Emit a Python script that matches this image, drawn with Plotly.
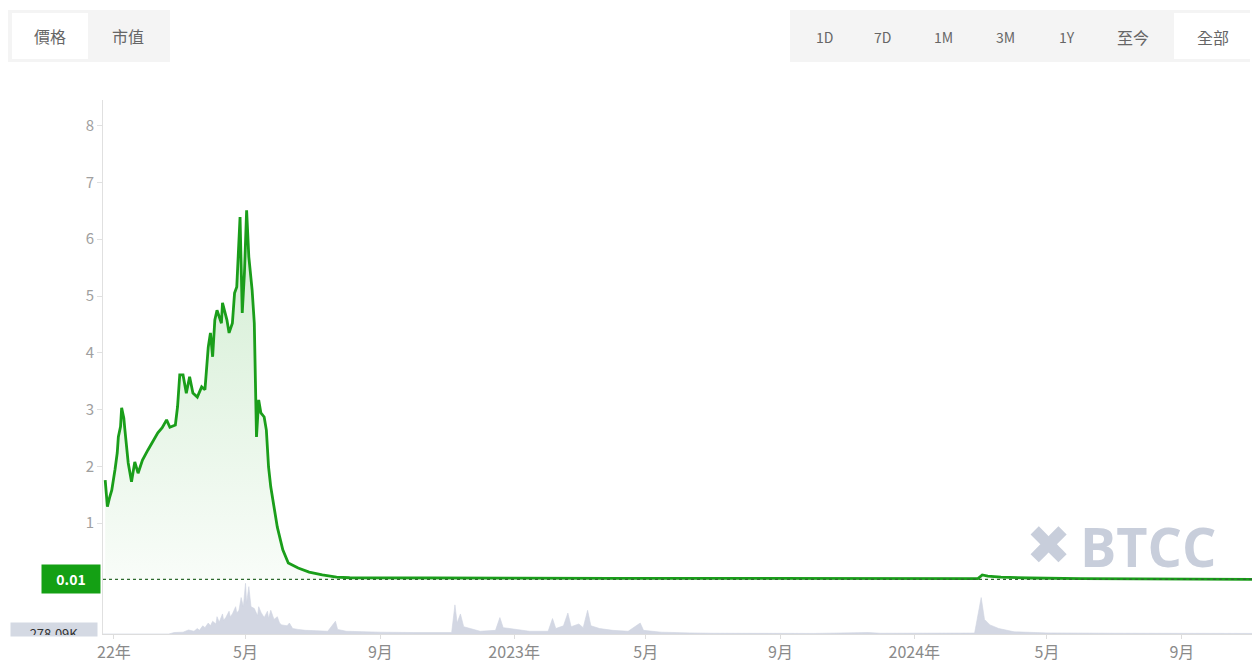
import plotly.graph_objects as go

# ---------------- data ----------------
price_dates = [
    "2021-12-24", "2021-12-26", "2021-12-28", "2021-12-30", "2022-01-02", "2022-01-04",
    "2022-01-05", "2022-01-07", "2022-01-08", "2022-01-10", "2022-01-11", "2022-01-14",
    "2022-01-17", "2022-01-20", "2022-01-23", "2022-01-27", "2022-02-01", "2022-02-06",
    "2022-02-10", "2022-02-14", "2022-02-18", "2022-02-21", "2022-02-26", "2022-02-28",
    "2022-03-02", "2022-03-05", "2022-03-08", "2022-03-11", "2022-03-14", "2022-03-18",
    "2022-03-22", "2022-03-25", "2022-03-28", "2022-03-30", "2022-04-01", "2022-04-03",
    "2022-04-05", "2022-04-09", "2022-04-10", "2022-04-14", "2022-04-16", "2022-04-19",
    "2022-04-21", "2022-04-23", "2022-04-26", "2022-04-28", "2022-04-30", "2022-05-02",
    "2022-05-04", "2022-05-07", "2022-05-09", "2022-05-11", "2022-05-13", "2022-05-15",
    "2022-05-18", "2022-05-20", "2022-05-22", "2022-05-24", "2022-05-27", "2022-05-30",
    "2022-06-04", "2022-06-09", "2022-06-18", "2022-06-28", "2022-07-10", "2022-07-23",
    "2022-08-04", "2022-08-22", "2022-10-01", "2023-01-01", "2023-04-01", "2023-08-01",
    "2023-12-01", "2024-02-28", "2024-03-03", "2024-03-08", "2024-03-20", "2024-04-15",
    "2024-06-01", "2024-09-01", "2024-11-04",
]
price_values = [
    1.76, 1.29, 1.45, 1.58, 1.95, 2.24,
    2.52, 2.70, 3.03, 2.85, 2.64, 2.06,
    1.73, 2.08, 1.88, 2.11, 2.29, 2.46,
    2.59, 2.68, 2.82, 2.69, 2.73, 3.05,
    3.61, 3.61, 3.29, 3.58, 3.29, 3.22,
    3.40, 3.35, 4.10, 4.35, 3.93, 4.58,
    4.75, 4.52, 4.88, 4.58, 4.35, 4.52,
    5.05, 5.16, 6.39, 4.70, 5.40, 6.51,
    5.69, 5.11, 4.52, 2.52, 3.17, 2.94,
    2.87, 2.64, 1.99, 1.64, 1.29, 0.93,
    0.53, 0.30, 0.21, 0.14, 0.09, 0.05,
    0.040, 0.038, 0.035, 0.032, 0.030, 0.028,
    0.026, 0.025, 0.090, 0.070, 0.050, 0.035,
    0.025, 0.018, 0.012,
]

volume_dates = [
    "2021-12-22", "2022-02-20", "2022-02-25", "2022-03-05", "2022-03-10", "2022-03-15",
    "2022-03-18", "2022-03-20", "2022-03-23", "2022-03-25", "2022-03-28", "2022-03-30",
    "2022-04-01", "2022-04-04", "2022-04-05", "2022-04-07", "2022-04-10", "2022-04-11",
    "2022-04-13", "2022-04-16", "2022-04-17", "2022-04-19", "2022-04-22", "2022-04-23",
    "2022-04-25", "2022-04-27", "2022-04-29", "2022-05-01", "2022-05-02", "2022-05-04",
    "2022-05-06", "2022-05-09", "2022-05-12", "2022-05-13", "2022-05-15", "2022-05-18",
    "2022-05-21", "2022-05-22", "2022-05-24", "2022-05-27", "2022-05-30", "2022-06-01",
    "2022-06-03", "2022-06-08", "2022-06-10", "2022-06-13", "2022-06-18", "2022-06-25",
    "2022-07-05", "2022-07-15", "2022-07-22", "2022-07-24", "2022-08-01", "2022-08-15",
    "2022-09-01", "2022-10-01", "2022-11-01", "2022-11-05", "2022-11-08", "2022-11-10",
    "2022-11-13", "2022-11-16", "2022-11-22", "2022-12-01", "2022-12-15", "2022-12-19",
    "2022-12-22", "2023-01-05", "2023-01-15", "2023-02-01", "2023-02-05", "2023-02-08",
    "2023-02-15", "2023-02-19", "2023-02-22", "2023-03-01", "2023-03-05", "2023-03-09",
    "2023-03-12", "2023-03-20", "2023-04-01", "2023-04-15", "2023-04-26", "2023-04-29",
    "2023-05-15", "2023-06-10", "2023-07-01", "2023-10-01", "2023-11-20", "2023-12-01",
    "2024-01-15", "2024-02-25", "2024-03-02", "2024-03-05", "2024-03-10", "2024-03-18",
    "2024-04-01", "2024-05-01", "2024-07-01", "2024-11-04",
]
volume_values_k = [
    0, 0, 8, 10, 22, 15,
    30, 20, 45, 35, 60, 45,
    70, 55, 95, 65, 110, 75,
    90, 125, 95, 110, 150, 115,
    130, 200, 150, 278, 170, 260,
    150, 140, 100, 150, 120, 90,
    125, 85, 130, 80, 95, 60,
    50, 45, 60, 30, 25, 20,
    18, 15, 70, 25, 15, 12,
    10, 8, 10, 8, 160, 60,
    110, 40, 30, 15, 20, 90,
    35, 25, 15, 15, 85, 30,
    45, 115, 40, 55, 35, 130,
    45, 30, 20, 15, 60, 20,
    10, 6, 4, 3, 8, 4,
    3, 5, 200, 80, 50, 30,
    12, 6, 4, 3,
]

current_price = 0.01
current_price_label = "0.01"
volume_label = "278.09K"

x_tick_vals = ["2022-01-01", "2022-05-01", "2022-09-01", "2023-01-01", "2023-05-01",
               "2023-09-01", "2024-01-01", "2024-05-01", "2024-09-01"]
x_tick_text = ["22年", "5月", "9月", "2023年", "5月", "9月", "2024年", "5月", "9月"]
y_tick_vals = [1, 2, 3, 4, 5, 6, 7, 8]

left_tabs = ["價格", "市值"]
right_tabs = ["1D", "7D", "1M", "3M", "1Y", "至今", "全部"]

# ---------------- figure ----------------
W, H = 1252, 668
ML, MR, MT, MB = 103, 0, 100, 34
PW, PH = W - ML - MR, H - MT - MB
FONT = "Noto Sans CJK TC, Noto Sans, sans-serif"
GREEN = "rgb(26,158,26)"
LOGO = "#c8cedb"


def px_x(px):
    return (px - ML) / PW


def px_y(py):
    return (H - MB - py) / PH


fig = go.Figure()

fig.add_trace(go.Scatter(
    x=volume_dates, y=volume_values_k, yaxis="y2", mode="lines",
    line=dict(color="rgb(206,211,224)", width=0.6),
    fill="tozeroy", fillcolor="rgba(206,211,224,0.9)", hoverinfo="skip",
))

fig.add_trace(go.Scatter(
    x=price_dates, y=price_values, mode="lines",
    line=dict(color=GREEN, width=2.8),
    fill="tozeroy",
    fillgradient=dict(type="vertical",
                      colorscale=[[0, "rgba(40,170,40,0.03)"], [1, "rgba(40,170,40,0.21)"]]),
    hoverinfo="skip",
))

fig.update_layout(
    width=W, height=H,
    margin=dict(l=ML, r=MR, t=MT, b=MB),
    paper_bgcolor="white", plot_bgcolor="white",
    showlegend=False, hovermode=False,
    font=dict(family=FONT, color="#888"),
    xaxis=dict(
        type="date", range=["2021-12-22", "2024-11-04"],
        tickvals=x_tick_vals, ticktext=x_tick_text,
        tickfont=dict(size=16, color="#8a8a8a"),
        showgrid=False, zeroline=False,
        showline=True, linecolor="#dddddd", linewidth=1,
        ticks="outside", ticklen=4, tickcolor="#dddddd",
    ),
    yaxis=dict(
        range=[-(634 - 580) / 56.8, (580 - 100) / 56.8],
        tickvals=y_tick_vals, tickfont=dict(size=15, color="#a0a0a0"),
        showgrid=False, zeroline=False,
        showline=True, linecolor="#e0e0e0", linewidth=1,
        ticks="outside", ticklen=5, tickcolor="#e0e0e0",
    ),
    yaxis2=dict(
        domain=[0, 51 / PH], range=[0, 280], anchor="x",
        showgrid=False, zeroline=False, showticklabels=False, showline=False,
    ),
)

# current price dotted line
fig.add_shape(type="line", xref="paper", yref="y", x0=0, x1=1,
              y0=current_price, y1=current_price,
              line=dict(color="#2f6a2f", width=1.2, dash="3px,3px"))

# tab containers
fig.add_shape(type="rect", xref="paper", yref="paper",
              x0=px_x(8), x1=px_x(170), y0=px_y(62), y1=px_y(10),
              fillcolor="#f4f4f4", line=dict(width=0), layer="below")
fig.add_shape(type="rect", xref="paper", yref="paper",
              x0=px_x(12), x1=px_x(88), y0=px_y(59), y1=px_y(13),
              fillcolor="white", line=dict(width=0), layer="below")
fig.add_shape(type="rect", xref="paper", yref="paper",
              x0=px_x(790), x1=px_x(1250), y0=px_y(62), y1=px_y(10),
              fillcolor="#f4f4f4", line=dict(width=0), layer="below")
fig.add_shape(type="rect", xref="paper", yref="paper",
              x0=px_x(1174), x1=px_x(1250), y0=px_y(59), y1=px_y(13),
              fillcolor="white", line=dict(width=0), layer="below")

left_tab_x = [50, 128]
for label, cx in zip(left_tabs, left_tab_x):
    fig.add_annotation(text=label, xref="paper", yref="paper", x=px_x(cx), y=px_y(36),
                       xanchor="center", yanchor="middle",
                       showarrow=False, font=dict(size=16, color="#666", family=FONT))

right_tab_x = [824, 882, 943, 1005, 1067, 1133, 1213]
for label, cx in zip(right_tabs, right_tab_x):
    is_cjk = label in ("至今", "全部")
    fig.add_annotation(text=label, xref="paper", yref="paper", x=px_x(cx), y=px_y(37),
                       xanchor="center", yanchor="middle", showarrow=False,
                       font=dict(size=16 if is_cjk else 14, color="#666", family=FONT))

# current price label
fig.add_annotation(text="<b>" + current_price_label + "</b>", xref="paper", yref="y",
                   x=px_x(101), y=current_price, xanchor="right", yanchor="middle",
                   showarrow=False, bgcolor="rgb(20,160,20)", width=56, height=26,
                   font=dict(size=14, color="white", family=FONT))

# volume label (clipped at the pane bottom)
fig.add_annotation(text=volume_label, xref="paper", yref="paper",
                   x=px_x(98), y=px_y(622), xanchor="right", yanchor="top",
                   showarrow=False, bgcolor="#d4d9e3", width=84, height=11, valign="top",
                   font=dict(size=13, color="#333", family=FONT))

# watermarks
fig.add_annotation(text="BTCC  Exchange  Support", xref="paper", yref="paper",
                   x=px_x(676), y=px_y(362), xanchor="center", yanchor="middle",
                   showarrow=False,
                   font=dict(size=36, color="rgba(0,0,0,0.018)", family="Open Sans"))
fig.add_annotation(text="✖", xref="paper", yref="paper",
                   x=px_x(1048), y=px_y(545), xanchor="center", yanchor="middle",
                   showarrow=False,
                   font=dict(size=54, color=LOGO, family="DejaVu Sans"))
fig.add_annotation(text="<b>BTCC</b>", xref="paper", yref="paper",
                   x=px_x(1148), y=px_y(546), xanchor="center", yanchor="middle",
                   showarrow=False,
                   font=dict(size=54, color=LOGO, family="Open Sans"))

fig.write_html("out.html", config={"displayModeBar": False},
               post_script="document.body.style.margin='0';")
